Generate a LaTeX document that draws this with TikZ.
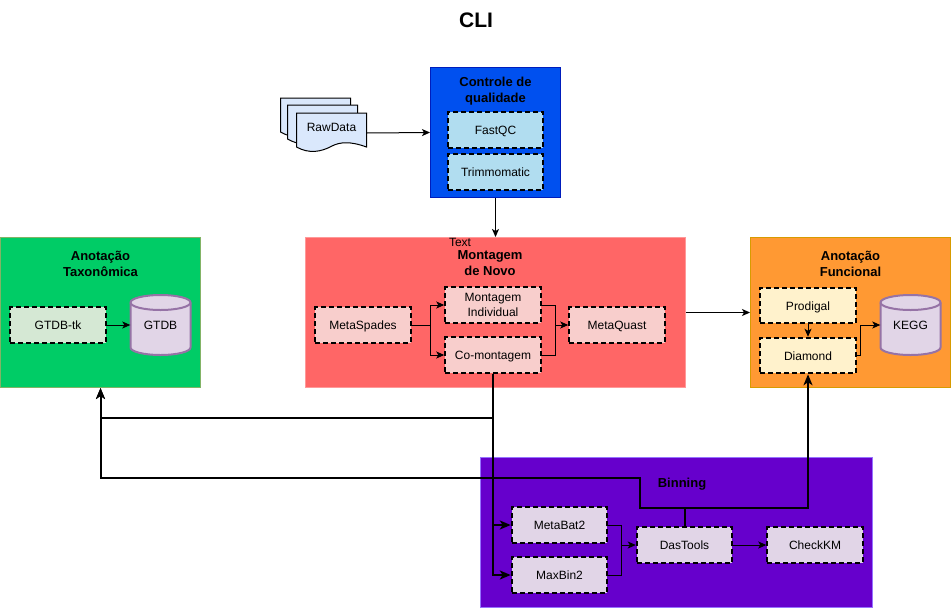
\documentclass[tikz,border=0pt]{standalone}
\usepackage{fontspec}
\setmainfont{Liberation Sans}
\usetikzlibrary{arrows.meta,calc}
\definecolor{ctrlF}{HTML}{0050EF}\definecolor{ctrlD}{HTML}{001DBC}
\definecolor{redF}{HTML}{FF6666}\definecolor{redD}{HTML}{FF9999}
\definecolor{greenF}{HTML}{00CC66}\definecolor{greenD}{HTML}{82B366}
\definecolor{orangeF}{HTML}{FF9933}\definecolor{orangeD}{HTML}{D79B00}
\definecolor{purpF}{HTML}{6600CC}\definecolor{purpD}{HTML}{9673FF}
\definecolor{blueI}{HTML}{B1DDF0}\definecolor{redI}{HTML}{F8CECC}
\definecolor{greenI}{HTML}{D5E8D4}\definecolor{yelI}{HTML}{FFF2CC}
\definecolor{purpI}{HTML}{E1D5E7}\definecolor{cylD}{HTML}{9673A6}
\definecolor{docF}{HTML}{DAE8FC}
\tikzset{
  x=1pt,y=-1pt,
  panel/.style={draw=#1,line width=1pt,minimum width=0pt,inner sep=0pt},
  tool/.style={draw=black,line width=2pt,dash pattern=on 5pt off 3pt,inner sep=0pt,
    minimum width=95.5pt,minimum height=35.5pt,align=center,font=\fontsize{12}{15}\selectfont,
    text height=9pt,text depth=0pt},
  title/.style={font=\bfseries\fontsize{13}{16}\selectfont,align=center,inner sep=0pt},
  plain/.style={font=\fontsize{12}{15}\selectfont,inner sep=0pt,align=center,text height=9pt,text depth=0pt},
  slim/.style={draw=black,line width=1pt,-{Stealth[length=8pt,width=7pt,inset=2pt]}},
  seg/.style={draw=black,line width=1pt},
  bold/.style={draw=black,line width=2pt,-{Stealth[length=11pt,width=9pt,inset=3pt]}},
  doc/.style={draw=black,line width=1pt,fill=docF},
  cyl/.style={draw=cylD,line width=2pt,fill=purpI},
  holder/.style={inner sep=0pt,minimum width=#1,minimum height=35pt,font=\fontsize{12}{15}\selectfont,text height=9pt,text depth=0pt}
}
\newcommand{\cylshape}[2]{%
  \begin{scope}[shift={(#1,#2)}]
  \draw[cyl] (0,7.5) .. controls (0,3.36) and (13.43,0) .. (30,0) .. controls (46.57,0) and (60,3.36) .. (60,7.5) -- (60,52.5) .. controls (60,56.64) and (46.57,60) .. (30,60) .. controls (13.43,60) and (0,56.64) .. (0,52.5) -- cycle;
  \draw[cyl,fill=none] (0,7.5) .. controls (0,11.64) and (13.43,15) .. (30,15) .. controls (46.57,15) and (60,11.64) .. (60,7.5);
  \end{scope}}
\begin{document}
\begin{tikzpicture}
\useasboundingbox (0,0) rectangle (952,608);
% panels
\node[panel=ctrlD,fill=ctrlF,minimum width=130pt,minimum height=130pt] (ctrl) at (495.5,132.5) {};
\node[panel=redD,fill=redF,minimum width=380pt,minimum height=150pt] (mont) at (495.5,312.5) {};
\node[panel=greenD,fill=greenF,minimum width=200pt,minimum height=150pt] (tax) at (100.5,312.5) {};
\node[panel=orangeD,fill=orangeF,minimum width=200pt,minimum height=150pt] (func) at (850.5,312.5) {};
\node[panel=purpD,fill=purpF,minimum width=392pt,minimum height=150pt] (bin) at (676.5,532.5) {};
% titles
\node[title,font=\bfseries\fontsize{21}{24}\selectfont] (cli) at (476,20) {CLI};
\node[title] (tctrl) at (495.5,91) {Controle de\\qualidade};
\node[title] (tmont) at (490,263.5) {Montagem\\de Novo};
\node[title] (ttax) at (100.5,263.5) {Anotação\\Taxonômica};
\node[title] (tfunc) at (850.5,263.5) {Anotação\\Funcional};
\node[title] (tbin) at (682,484) {Binning};
\node[plain] (txt) at (460,242) {Text};
% raw data stack
\draw[doc] (280.5,98) -- (350.5,98) -- (350.5,135) .. controls (333,128) and (323,128) .. (315,133) .. controls (305,139) and (293,139) .. (280.5,132) -- cycle;
\draw[doc] (287.5,105) -- (357.5,105) -- (357.5,142) .. controls (340,135) and (330,135) .. (322,140) .. controls (312,146) and (300,146) .. (287.5,139) -- cycle;
\draw[doc] (296.5,113) -- (366.5,113) -- (366.5,147) .. controls (350,141) and (340,142) .. (332,146) .. controls (321,152) and (309,154) .. (296.5,147) -- cycle;
\node[holder=70pt,minimum height=40pt] (raw) at (331.5,133) {};
\node[plain] (rawt) at (331.5,127) {RawData};
% cylinders
\cylshape{130.5}{295}
\node[holder=60pt] (gtdb) at (160.5,325) {GTDB};
\cylshape{880.5}{295}
\node[holder=60pt] (kegg) at (910.5,325) {KEGG};
% tools
\node[tool,fill=blueI] (fastqc) at (495.5,130) {FastQC};
\node[tool,fill=blueI] (trim) at (495.5,172) {Trimmomatic};
\node[tool,fill=redI] (spades) at (363,325) {MetaSpades};
\node[tool,fill=redI,text height=,text depth=] (indiv) at (493,305) {Montagem\\Individual};
\node[tool,fill=redI] (como) at (493,355) {Co-montagem};
\node[tool,fill=redI] (quast) at (617,325) {MetaQuast};
\node[tool,fill=greenI] (gtk) at (58,325) {GTDB-tk};
\node[tool,fill=yelI] (prod) at (808,305.5) {Prodigal};
\node[tool,fill=yelI] (diam) at (808,355.5) {Diamond};
\node[tool,fill=purpI] (bat) at (559.5,525) {MetaBat2};
\node[tool,fill=purpI] (maxb) at (559.5,575) {MaxBin2};
\node[tool,fill=purpI] (das) at (684.5,545) {DasTools};
\node[tool,fill=purpI] (check) at (815,545) {CheckKM};
% junctions
\coordinate (jm) at (430,325);
\coordinate (jq) at (555,325);
\coordinate (jb) at (621,545);
\coordinate (jk) at (860.5,325);
\coordinate (jt) at (684.5,507.5);
\coordinate (jl) at (640,507.5);
\coordinate (jh) at (640,477.5);
\coordinate (jg) at (100.5,477.5);
\coordinate (jn) at (493,417.5);
\coordinate (jo) at (100.5,417.5);
\coordinate (jr) at (808,507.5);
% slim connectors
\draw[slim] (raw.east) -- (ctrl.west);
\draw[slim] (ctrl.south) -- (mont.north);
\draw[slim] (mont.east) -- (func.west);
\draw[seg] (spades.east) -- (jm);
\draw[slim] (jm) |- (indiv.west);
\draw[slim] (jm) |- (como.west);
\draw[seg] (indiv.east) -| (jq);
\draw[seg] (como.east) -| (jq);
\draw[slim] (jq) -- (quast.west);
\draw[slim] (gtk.east) -- (gtdb.west);
\draw[slim] (prod.south) -- (diam.north);
\draw[slim] (diam.east) -| (jk) -- (kegg.west);
\draw[seg] (bat.east) -| (jb);
\draw[seg] (maxb.east) -| (jb);
\draw[slim] (jb) -- (das.west);
\draw[slim] (das.east) -- (check.west);
% bold connectors
\draw[bold] (como.south) -- (jn) -- (jo) -- (tax.south);
\draw[bold] (como.south) |- (bat.west);
\draw[bold] (como.south) |- (maxb.west);
\draw[bold] (das.north) -- (jt) -- (jl) -- (jh) -- (jg) -- (tax.south);
\draw[bold] (das.north) -- (jt) -- (jr) -- (diam.south);
\end{tikzpicture}
\end{document}
